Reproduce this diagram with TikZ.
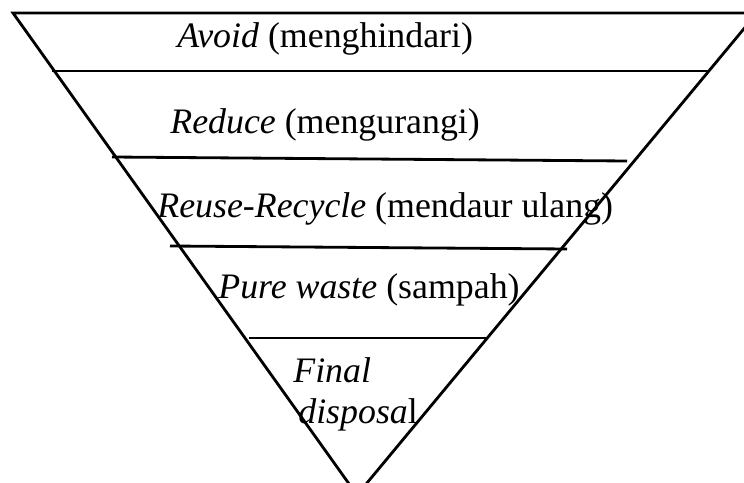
\documentclass[tikz,border=0pt]{standalone}
\usepackage{fontspec}
\setmainfont{Liberation Serif}
\newfontfamily\labelfont{Liberation Serif}

\begin{document}
\begin{tikzpicture}[x=0.02cm,y=-0.02cm,every node/.style={font=\labelfont\fontsize{20.4}{24}\selectfont,inner sep=0pt,anchor=base west},level line/.style={line width=1.6pt}]
    \useasboundingbox (0,0) rectangle (744,483);
    \clip (0,0) rectangle (744,483);
    \coordinate (tl) at (13,13);
    \coordinate (tr) at (757,13);
    \coordinate (apex) at (357,495);
    \coordinate (a1) at (52,71);
    \coordinate (a2) at (708,71);
    \coordinate (b1) at (112,157);
    \coordinate (b2) at (627,161);
    \coordinate (c1) at (170,246);
    \coordinate (c2) at (567,249);
    \coordinate (d1) at (249,338);
    \coordinate (d2) at (487,338);
    \draw[level line] (tl) -- (tr) -- (apex) -- cycle;
    \draw[level line] (a1) -- (a2);
    \draw[level line] (b1) -- (b2);
    \draw[level line] (c1) -- (c2);
    \draw[level line] (d1) -- (d2);
    \node (avoid) at (177,48) {\textit{Avoid} (menghindari)};
    \node (reduce) at (170,133) {\textit{Reduce} (mengurangi)};
    \node (reuse) at (157,217) {\textit{Reuse-Recycle} (mendaur ulang)};
    \node (pure) at (218,298) {\textit{Pure waste} (sampah)};
    \node (final) at (293,382) {\textit{Final}};
    \node (disposal) at (298,423) {\textit{disposa}l};
\end{tikzpicture}
\end{document}
